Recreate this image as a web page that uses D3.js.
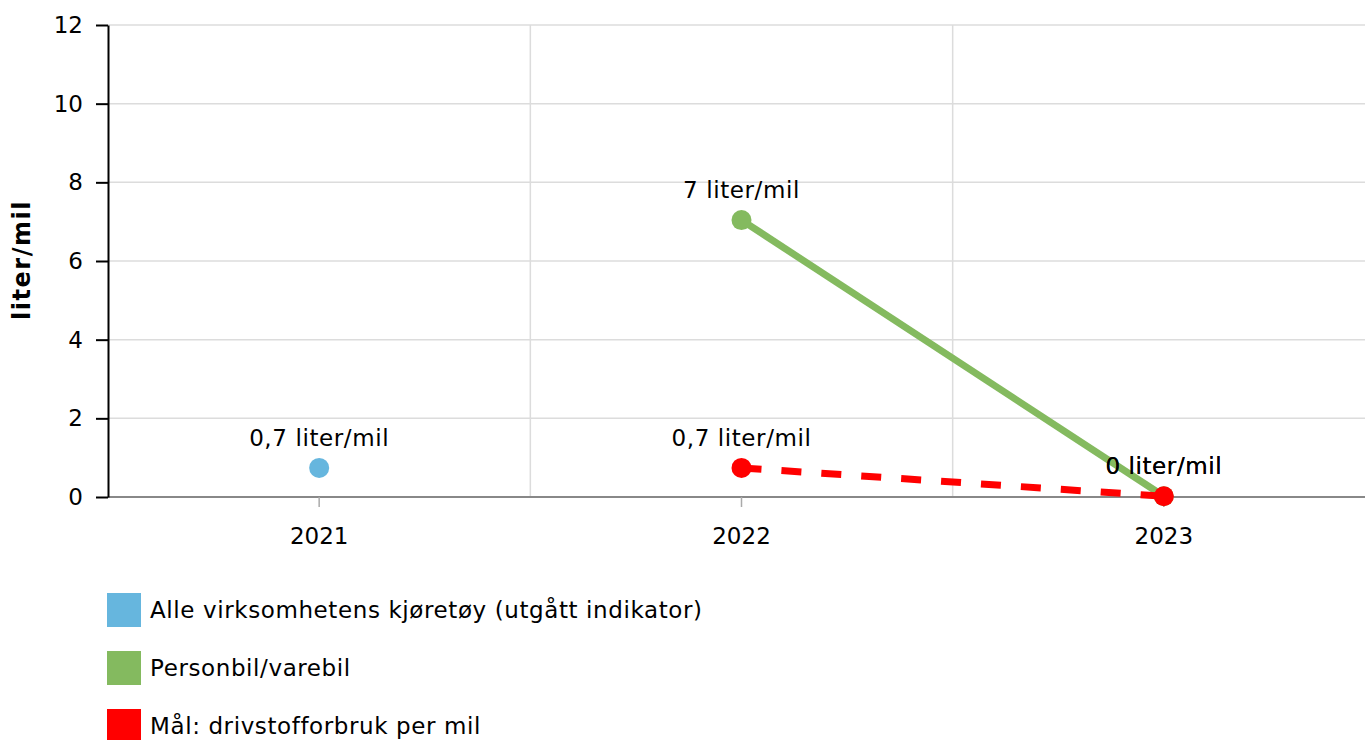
<!DOCTYPE html>
<html><head><meta charset="utf-8">
<script src="https://cdn.jsdelivr.net/npm/d3@7"></script>
<style>
html,body{margin:0;padding:0;background:#fff;}
svg{display:block;font-family:"DejaVu Sans",Verdana,sans-serif;}
</style></head>
<body>
<svg id="chart" width="1365" height="740"></svg>
<script>
const years = ["2021","2022","2023"];
const yTicks = [0,2,4,6,8,10,12];
const seriesNames = ["Alle virksomhetens kjøretøy (utgått indikator)","Personbil/varebil","Mål: drivstofforbruk per mil"];
const seriesColors = ["#66b6de","#84ba5f","#ff0000"];
const allVehicles = [{year:"2021", v:0.74, label:"0,7 liter/mil"}];
const carVan = [{year:"2022", v:7.04, label:"7 liter/mil"},{year:"2023", v:0.02, label:"0 liter/mil"}];
const target = [{year:"2022", v:0.74, label:"0,7 liter/mil"},{year:"2023", v:0.02, label:"0 liter/mil"}];
const yTitle = "liter/mil";

(function(){
const svg = d3.select("#chart");
const pL = 108, pR = 1375, pT = 25, pB = 497;
const FS = "23px", LS = "0.6px";
const x = d3.scaleBand().domain(years).range([pL, pR]).padding(0);
const y = d3.scaleLinear().domain([0,12]).range([pB, pT]);
const cx = d => x(d) + x.bandwidth()/2;

svg.append("g").selectAll("line").data(yTicks.filter(t=>t>0)).join("line")
  .attr("x1", pL).attr("x2", 1365).attr("y1", d=>y(d)).attr("y2", d=>y(d))
  .attr("stroke","#dcdcdc").attr("stroke-width",1.5);
svg.append("g").selectAll("line").data(years.slice(1)).join("line")
  .attr("x1", d=>x(d)).attr("x2", d=>x(d)).attr("y1", pT).attr("y2", pB)
  .attr("stroke","#dcdcdc").attr("stroke-width",1.5);

const xAxis = svg.append("g").attr("transform",`translate(0,${pB})`)
  .call(d3.axisBottom(x).tickSizeInner(10).tickSizeOuter(0).tickPadding(21));
xAxis.select(".domain").attr("stroke","#888").attr("stroke-width",2).attr("d",`M${pL},0H1365`);
xAxis.selectAll(".tick line").attr("stroke","#aaa").attr("stroke-width",1.5);
xAxis.selectAll(".tick text").attr("fill","#000").style("font-size",FS).style("font-family",'"DejaVu Sans",Verdana,sans-serif');

const yAxis = svg.append("g").attr("transform",`translate(${pL},0)`)
  .call(d3.axisLeft(y).tickValues(yTicks).tickSizeInner(12).tickSizeOuter(0).tickPadding(13));
yAxis.select(".domain").attr("stroke","#000").attr("stroke-width",2);
yAxis.selectAll(".tick line").attr("stroke","#000").attr("stroke-width",2);
yAxis.selectAll(".tick text").attr("fill","#000").style("font-size",FS).style("font-family",'"DejaVu Sans",Verdana,sans-serif');

svg.append("text").attr("transform","translate(30,260) rotate(-90)")
  .attr("text-anchor","middle").style("font-size","24px").style("font-weight","bold")
  .style("letter-spacing","1.5px").text(yTitle);

const line = d3.line().x(d=>cx(d.year)).y(d=>y(d.v));

function drawSeries(data, color, dashed){
  const g = svg.append("g");
  if (data.length > 1) {
    g.append("path").attr("d", line(data)).attr("fill","none").attr("stroke",color)
      .attr("stroke-width",7).attr("stroke-dasharray", dashed ? "20,20" : null);
  }
  g.selectAll("circle").data(data).join("circle")
    .attr("cx", d=>cx(d.year)).attr("cy", d=>y(d.v)).attr("r",10).attr("fill",color);
  g.selectAll("text").data(data).join("text")
    .attr("x", d=>cx(d.year)).attr("y", d=>y(d.v)-22).attr("text-anchor","middle")
    .style("font-size",FS).style("letter-spacing",LS).attr("fill","#000").text(d=>d.label);
}
drawSeries(allVehicles, seriesColors[0], false);
drawSeries(carVan, seriesColors[1], false);
drawSeries(target, seriesColors[2], true);

const lg = svg.append("g").selectAll("g").data(seriesNames).join("g")
  .attr("transform",(d,i)=>`translate(107,${593 + i*58})`);
lg.append("rect").attr("width",34).attr("height",34).attr("fill",(d,i)=>seriesColors[i]);
lg.append("text").attr("x",43).attr("y",25).style("font-size",FS).style("letter-spacing",LS)
  .attr("fill","#000").text(d=>d);
})();
</script>
</body></html>
